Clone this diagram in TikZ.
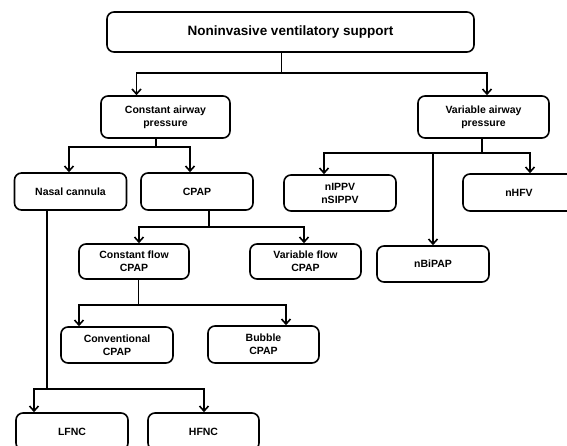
\documentclass[tikz,border=0pt]{standalone}
\usepackage{fontspec}
\setmainfont{Liberation Sans}
\usetikzlibrary{arrows.meta}

\begin{document}
\begin{tikzpicture}[x=1pt,y=-1pt,
  box/.style={draw,line width=1.6pt,rounded corners=7pt,align=center,inner sep=0pt,
    minimum width=112pt,minimum height=37pt,font=\bfseries\fontsize{10.5}{13}\selectfont},
  link/.style={line width=1.6pt,-{Straight Barb[length=5pt,width=9pt]}}]
\useasboundingbox (0,0) rectangle (567,446);
\clip (0,0) rectangle (567,446);

\node[box,minimum width=367pt,minimum height=40pt,font=\bfseries\fontsize{13.5}{16}\selectfont](top) at (290.5,32) {Noninvasive ventilatory support};

\node[box,minimum width=129pt,minimum height=42pt](cap) at (165.5,117) {Constant airway\\pressure};
\node[box,minimum width=131pt,minimum height=42pt](vap) at (483.5,117) {Variable airway\\pressure};

\node[box](nc) at (70.5,191.5) {Nasal cannula};
\node[box](cpap) at (197,191.5) {CPAP};
\node[box,minimum height=36pt](nippv) at (340,193) {nIPPV\\nSIPPV};
\node[box](nhfv) at (519,192.5) {nHFV};
\node[box,minimum height=36pt](nbipap) at (433,264) {nBiPAP};

\node[box,minimum width=110pt,minimum height=35pt](cf) at (134,261.5) {Constant flow\\CPAP};
\node[box,minimum width=111pt,minimum height=35pt](vf) at (305.5,261.5) {Variable flow\\CPAP};

\node[box,minimum height=36pt](conv) at (117,345) {Conventional\\CPAP};
\node[box,minimum width=111pt](bub) at (263.5,344.5) {Bubble\\CPAP};

\node[box](lfnc) at (72,431.5) {LFNC};
\node[box,minimum width=111pt](hfnc) at (203.5,431.5) {HFNC};

\draw[link] ([xshift=-9pt]top.south) -- ++(0,20) -| ([xshift=-29pt]cap.north);
\draw[link] ([xshift=-9pt]top.south) -- ++(0,20) -| ([xshift=3.5pt]vap.north);

\draw[link] ([xshift=-9.5pt]cap.south) -- ++(0,8) -| ([xshift=-1.5pt]nc.north);
\draw[link] ([xshift=-9.5pt]cap.south) -- ++(0,8) -| ([xshift=-7pt]cpap.north);

\draw[link] ([xshift=-1.5pt]vap.south) -- ++(0,14) -| ([xshift=-16pt]nippv.north);
\draw[link] ([xshift=-1.5pt]vap.south) -- ++(0,14) -| (nbipap.north);
\draw[link] ([xshift=-1.5pt]vap.south) -- ++(0,14) -| ([xshift=11pt]nhfv.north);

\draw[link] ([xshift=12pt]cpap.south) -- ++(0,16) -| ([xshift=5pt]cf.north);
\draw[link] ([xshift=12pt]cpap.south) -- ++(0,16) -| ([xshift=-1.5pt]vf.north);

\draw[link] ([xshift=4.5pt]cf.south) -- ++(0,25) -| ([xshift=-38pt]conv.north);
\draw[link] ([xshift=4.5pt]cf.south) -- ++(0,25) -| ([xshift=22.5pt]bub.north);

\draw[link] ([xshift=-23.5pt]nc.south) -- ++(0,178) -| ([xshift=-38pt]lfnc.north);
\draw[link] ([xshift=-23.5pt]nc.south) -- ++(0,178) -| ([xshift=0.5pt]hfnc.north);

\end{tikzpicture}
\end{document}
